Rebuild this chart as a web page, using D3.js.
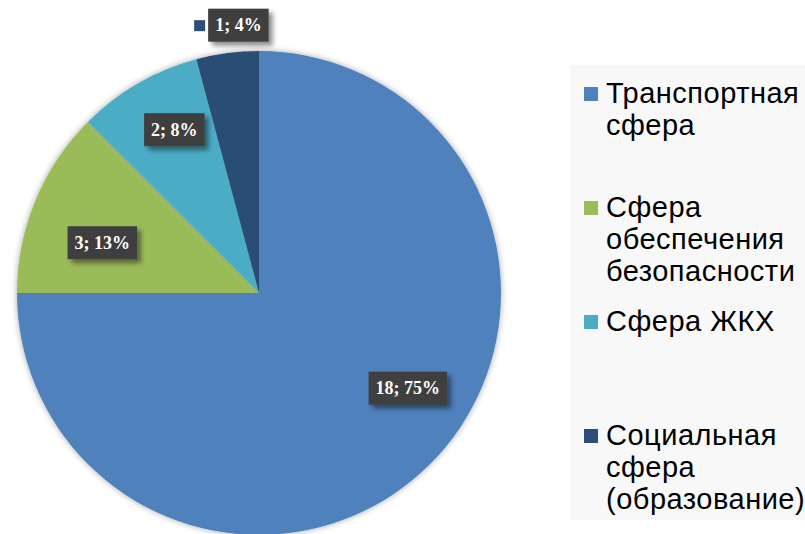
<!DOCTYPE html>
<html>
<head>
    <meta charset="utf-8">
    <script src="https://d3js.org/d3.v7.min.js"></script>
    <style>
        body { margin: 0; background: #fff; }
        .legend-text {
            font-family: "Liberation Sans", Arial, sans-serif;
            font-size: 29px;
            letter-spacing: 0.5px;
            fill: #000;
        }
        .label-text {
            font-family: "Liberation Serif", "Times New Roman", serif;
            font-size: 18px;
            font-weight: bold;
            fill: #fff;
        }
    </style>
</head>
<body>
<script>
    // Data
    let categories = ["Транспортная сфера", "Сфера обеспечения безопасности", "Сфера ЖКХ", "Социальная сфера (образование)"];
    let legendLines = [
        ["Транспортная", "сфера"],
        ["Сфера", "обеспечения", "безопасности"],
        ["Сфера ЖКХ"],
        ["Социальная", "сфера", "(образование)"]
    ];
    let values = [18, 3, 2, 1];
    let percents = ["75%", "13%", "8%", "4%"];
    let colors = ["#4f81bd", "#9bbb59", "#4bacc6", "#2c4d75"];

    let width = 805, height = 534;
    let cx = 259, cy = 293, radius = 242;

    // where each data label sits: fraction of radius and angle (deg, clockwise from top)
    let labelPlace = [[0.73, 122.6], [0.68, 287.8], [0.76, 332.6], [1.11, 355.6]];

    let svg = d3.select("body").append("svg")
        .attr("width", width)
        .attr("height", height);

    let defs = svg.append("defs");

    let pieShadow = defs.append("filter").attr("id", "pieShadow")
        .attr("x", "-10%").attr("y", "-10%").attr("width", "120%").attr("height", "120%");
    pieShadow.append("feDropShadow")
        .attr("dx", 0).attr("dy", 0).attr("stdDeviation", 3)
        .attr("flood-color", "#000").attr("flood-opacity", 0.35);

    let boxShadow = defs.append("filter").attr("id", "boxShadow")
        .attr("x", "-20%").attr("y", "-30%").attr("width", "150%").attr("height", "180%");
    boxShadow.append("feDropShadow")
        .attr("dx", 4).attr("dy", 4).attr("stdDeviation", 2.5)
        .attr("flood-color", "#000").attr("flood-opacity", 0.45);

    // dotted texture of the label boxes
    let dots = defs.append("pattern").attr("id", "dots")
        .attr("width", 4).attr("height", 4)
        .attr("patternUnits", "userSpaceOnUse");
    dots.append("rect").attr("width", 4).attr("height", 4).attr("fill", "#3d3d3d");
    dots.append("rect").attr("x", 1).attr("y", 1).attr("width", 1).attr("height", 1).attr("fill", "#4a4a4a");
    dots.append("rect").attr("x", 3).attr("y", 3).attr("width", 1).attr("height", 1).attr("fill", "#4a4a4a");

    // legend background
    svg.append("rect")
        .attr("x", 570).attr("y", 65)
        .attr("width", 235).attr("height", 455)
        .attr("fill", "#f8f8f8");

    // Pie
    let pie = d3.pie().sort(null).value(d => d);
    let arc = d3.arc().innerRadius(0).outerRadius(radius);
    let arcs = pie(values);

    let g = svg.append("g")
        .attr("transform", "translate(" + cx + "," + cy + ")");

    g.append("g")
        .attr("filter", "url(#pieShadow)")
        .selectAll("path")
        .data(arcs)
        .enter().append("path")
        .attr("d", arc)
        .attr("fill", (d, i) => colors[i]);

    // Data labels
    let label = g.selectAll(".label")
        .data(arcs)
        .enter().append("g")
        .attr("class", "label")
        .attr("transform", function(d, i) {
            let a = labelPlace[i][1] * Math.PI / 180;
            let r = labelPlace[i][0] * radius;
            return "translate(" + (r * Math.sin(a)) + "," + (-r * Math.cos(a)) + ")";
        });

    label.each(function(d, i) {
        let sel = d3.select(this);
        let txt = d.data + "; " + percents[i];
        let t = sel.append("text")
            .attr("class", "label-text")
            .attr("text-anchor", "middle")
            .attr("dy", "0.35em")
            .text(txt);
        let w = t.node().getComputedTextLength() + 14;
        let h = 33;
        sel.insert("rect", "text")
            .attr("x", -w / 2).attr("y", -h / 2)
            .attr("width", w).attr("height", h)
            .attr("fill", "url(#dots)")
            .attr("filter", "url(#boxShadow)");
        // the outside label carries its legend key
        if (labelPlace[i][0] > 1) {
            sel.append("rect")
                .attr("x", -w / 2 - 14).attr("y", -5)
                .attr("width", 11).attr("height", 11)
                .attr("fill", colors[i]);
        }
    });

    // Legend
    let legend = svg.append("g")
        .selectAll("g")
        .data(categories)
        .enter().append("g")
        .attr("transform", (d, i) => "translate(584," + (103 + i * 114) + ")");

    legend.append("rect")
        .attr("x", 0).attr("y", -16)
        .attr("width", 14).attr("height", 14)
        .attr("fill", (d, i) => colors[i]);

    legend.append("text")
        .attr("class", "legend-text")
        .attr("x", 22)
        .selectAll("tspan")
        .data((d, i) => legendLines[i])
        .enter().append("tspan")
        .attr("x", 22)
        .attr("dy", (d, j) => j === 0 ? 0 : 32)
        .text(d => d);
</script>
</body>
</html>
